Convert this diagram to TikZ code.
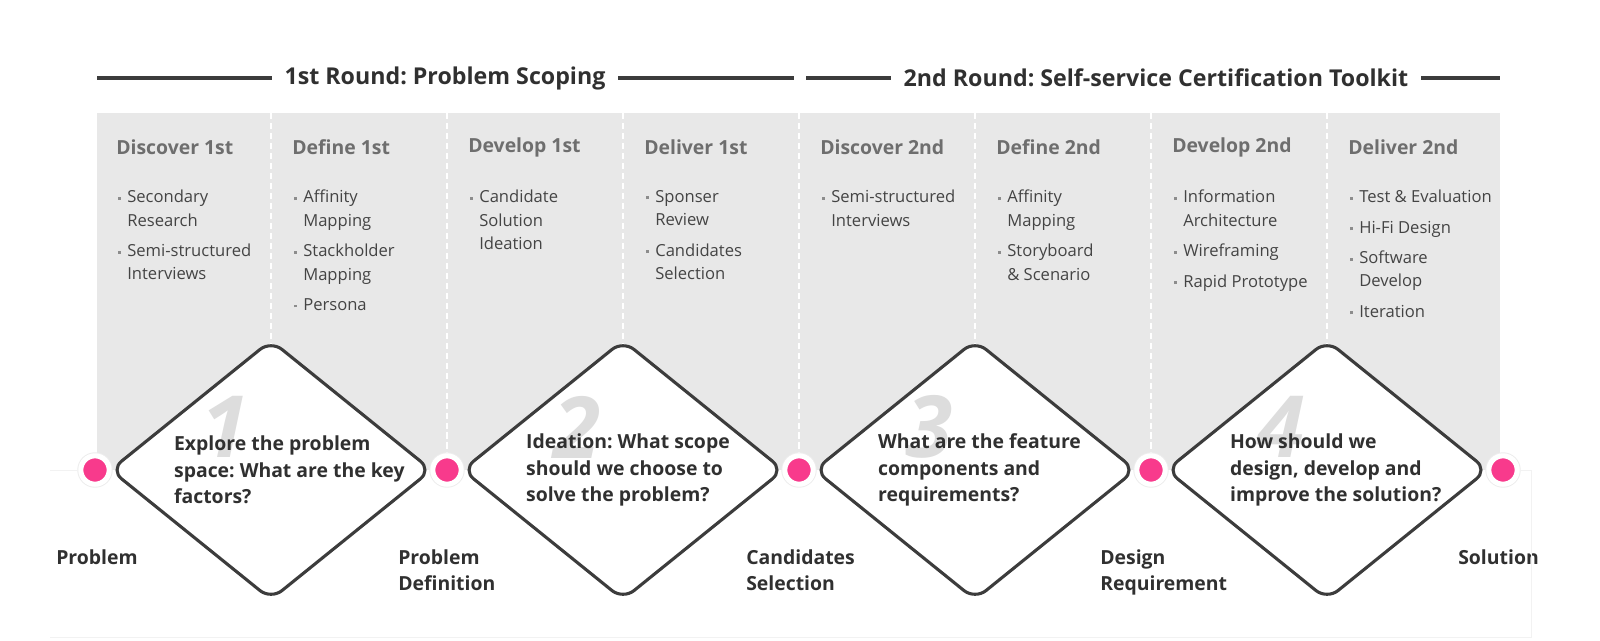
\documentclass[tikz,border=0pt]{standalone}
\usepackage{fontspec}
\setmainfont{Open Sans}
\usetikzlibrary{positioning,shapes.geometric,calc}
\frenchspacing

\definecolor{panelgray}{HTML}{E8E8E8}
\definecolor{headgray}{HTML}{6E6E6E}
\definecolor{listtext}{HTML}{444444}
\definecolor{bulgray}{HTML}{8C8C8C}
\definecolor{darktext}{HTML}{303030}
\definecolor{linedark}{HTML}{3C3C3C}
\definecolor{numgray}{HTML}{DDDDDD}
\definecolor{pinkdot}{HTML}{F83A8C}
\definecolor{halo}{HTML}{EDEDED}
\definecolor{faintgray}{HTML}{F2F2F2}

\newcommand{\bul}{\leavevmode\llap{{\color{bulgray}\rule[2.1pt]{2.1pt}{2.1pt}}\hspace{4.3pt}}}

\begin{document}
\begin{tikzpicture}[x=0.025cm,y=-0.025cm,
    round title/.style={font=\fontsize{16.5pt}{20pt}\selectfont\bfseries,text=darktext,inner xsep=9pt,inner ysep=0pt},
    round line/.style={draw=linedark,line width=2.4pt},
    head node/.style={anchor=west,inner sep=0pt,font=\fontsize{13.8pt}{17pt}\selectfont\bfseries,text=headgray},
    list node/.style={anchor=north west,align=left,inner sep=0pt,font=\fontsize{11.8pt}{16.6pt}\selectfont,text=listtext},
    divider/.style={draw=white,line width=1.1pt,dash pattern=on 4.3pt off 2.8pt},
    q node/.style={diamond,draw=linedark,line width=2.2pt,fill=white,rounded corners=10pt,inner sep=0pt,minimum width=229pt,minimum height=185pt},
    q text/.style={align=left,inner sep=0pt,font=\fontsize{13.8pt}{19pt}\selectfont\bfseries,text=darktext},
    num node/.style={inner sep=0pt,font=\fontsize{61pt}{61pt}\selectfont\bfseries\itshape,text=numgray},
    dot node/.style={circle,fill=pinkdot,draw=white,line width=3.6pt,minimum size=20.2pt,inner sep=0pt,
                     preaction={draw=halo,line width=5pt}},
    out node/.style={anchor=north west,align=left,inner sep=0pt,font=\fontsize{13.8pt}{19pt}\selectfont\bfseries,text=darktext},
    faint/.style={draw=faintgray,line width=0.6pt}]

    \useasboundingbox (0,0) rectangle (1600,640);

    % round titles
    \node[round title] (r1) at (445,78) {1st Round: Problem Scoping};
    \node[round title] (r2) at (1156,78) {2nd Round: Self-service Certification Toolkit};
    \coordinate (r1a) at (97,78);
    \coordinate (r1b) at (794,78);
    \coordinate (r2a) at (806,78);
    \coordinate (r2b) at (1500,78);
    \draw[round line] (r1a) -- (r1) -- (r1b);
    \draw[round line] (r2a) -- (r2) -- (r2b);

    % grey panel and columns
    \fill[panelgray] (97,113) rectangle (1500,470);
    \foreach \k in {1,...,7}
        \draw[divider] ({95+176*\k},113) -- ({95+176*\k},470);

    \foreach \hd/\lst [count=\k] in {
        {Discover 1st}/{\bul Secondary\\Research\\[5pt]\bul Semi-structured\\Interviews},
        {Define 1st}/{\bul Affinity\\Mapping\\[5pt]\bul Stackholder\\Mapping\\[5pt]\bul Persona},
        {Develop 1st}/{\bul Candidate\\Solution\\Ideation},
        {Deliver 1st}/{\bul Sponser\\Review\\[5pt]\bul Candidates\\Selection},
        {Discover 2nd}/{\bul Semi-structured\\Interviews},
        {Define 2nd}/{\bul Affinity\\Mapping\\[5pt]\bul Storyboard\\\& Scenario},
        {Develop 2nd}/{\bul Information\\Architecture\\[5pt]\bul Wireframing\\[5pt]\bul Rapid Prototype},
        {Deliver 2nd}/{\bul Test \& Evaluation\\[5pt]\bul Hi-Fi Design\\[5pt]\bul Software\\Develop\\[5pt]\bul Iteration}}
    {
        \node[head node] (h\k) at ({95+176*(\k-1)+21},147) {\hd};
        \node[list node] (l\k) at ({95+176*(\k-1)+32},190) {\lst};
    }

    % diamonds
    \foreach \k in {1,...,4}
        \node[q node] (q\k) at ({271+352*(\k-1)},470) {};
    \foreach \k in {1,...,4}
        \node[num node] (n\k) at ($(q\k)+(-46,-43)$) {\k};
    \foreach \k/\txt in {
        1/{Explore the problem\\space: What are the key\\factors?},
        2/{Ideation: What scope\\should we choose to\\solve the problem?},
        3/{What are the feature\\components and\\requirements?},
        4/{How should we\\design, develop and\\improve the solution?}}
        \node[q text,right=46.5pt of q\k.west] (t\k) {\txt};

    % milestones
    \foreach \k in {1,...,5}
        \node[dot node] (d\k) at ({95+352*(\k-1)},470) {};

    \node[out node] (o1) at ($(d1)+(-39,79)$) {Problem};
    \node[out node] (o2) at ($(d2)+(-49,79)$) {Problem\\Definition};
    \node[out node] (o3) at ($(d3)+(-53,79)$) {Candidates\\Selection};
    \node[out node] (o4) at ($(d4)+(-51,79)$) {Design\\Requirement};
    \node[out node] (o5) at ($(d5)+(-45,79)$) {Solution};

    % faint frame
    \coordinate (fl) at (50,470);
    \coordinate (fr) at (1531,470);
    \coordinate (fb) at (1531,637);
    \coordinate (fbl) at (50,637);
    \draw[faint] (fl) -- (d1);
    \draw[faint] (d5) -- (fr) -- (fb) -- (fbl);

\end{tikzpicture}
\end{document}
